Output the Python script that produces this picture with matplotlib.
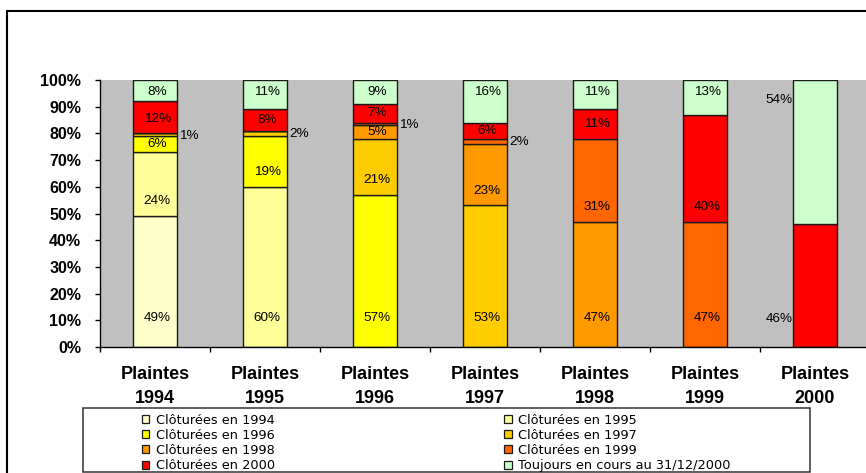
import matplotlib
matplotlib.use("Agg")
import matplotlib.pyplot as plt
from matplotlib.patches import Patch, Rectangle
from matplotlib.ticker import FixedLocator, FuncFormatter

# Complaints filed per year, broken down by the year they were closed (%)
categories = ["Plaintes\n1994", "Plaintes\n1995", "Plaintes\n1996", "Plaintes\n1997",
              "Plaintes\n1998", "Plaintes\n1999", "Plaintes\n2000"]

series_names = ["Clôturées en 1994", "Clôturées en 1995", "Clôturées en 1996",
                "Clôturées en 1997", "Clôturées en 1998", "Clôturées en 1999",
                "Clôturées en 2000", "Toujours en cours au 31/12/2000"]

clot_1994 = [49, 0, 0, 0, 0, 0, 0]
clot_1995 = [24, 60, 0, 0, 0, 0, 0]
clot_1996 = [6, 19, 57, 0, 0, 0, 0]
clot_1997 = [1, 2, 21, 53, 0, 0, 0]
clot_1998 = [0, 0, 5, 23, 47, 0, 0]
clot_1999 = [0, 0, 1, 2, 31, 47, 0]
clot_2000 = [12, 8, 7, 6, 11, 40, 46]
en_cours = [8, 11, 9, 16, 11, 13, 54]

series_values = [clot_1994, clot_1995, clot_1996, clot_1997,
                 clot_1998, clot_1999, clot_2000, en_cours]

colors = ["#FFFFCC", "#FFFF99", "#FFFF00", "#FFCC00",
          "#FF9900", "#FF6600", "#FF0000", "#CCFFCC"]

W, H = 866, 473
fig = plt.figure(figsize=(W / 100, H / 100), dpi=100)
fig.patch.set_facecolor("white")

# outer frame of the chart object
fig.add_artist(Rectangle((7.5 / W, -0.1), 2.0, (H - 11.5) / H + 0.1,
                         transform=fig.transFigure, fill=False,
                         edgecolor="black", linewidth=1.5, clip_on=False))

ax = fig.add_axes([100 / W, (H - 347) / H, 770 / W, 267 / H])
ax.set_facecolor("#C0C0C0")
ax.set_xlim(-0.5, 6.5)
ax.set_ylim(0, 100)

label_font = dict(family="Liberation Sans", fontsize=9.7, color="black")
bar_w = 0.4
n = len(categories)
xs = list(range(n))
bottoms = [0] * n

for name, vals, col in zip(series_names, series_values, colors):
    ax.bar(xs, vals, bar_w, bottom=bottoms, color=col,
           edgecolor="#1a1a1a", linewidth=1.0, zorder=3)
    bottoms = [b + v for b, v in zip(bottoms, vals)]

# value labels
for i in xs:
    segs = [(s, vals[i]) for s, vals in enumerate(series_values) if vals[i] > 0]
    base = 0
    last = len(segs) - 1
    outside_left = (i == n - 1)
    for k, (s, v) in enumerate(segs):
        center = base + v / 2
        txt = f"{v}%"
        if outside_left:
            y = 100 - 7.5 if k == last else 10.5
            ax.text(i - bar_w / 2 - 0.005, y, txt, ha="right", va="center",
                    zorder=5, **label_font)
        elif v < 3:
            ax.text(i + bar_w / 2 + 0.02, center - 0.3, txt, ha="left",
                    va="center", zorder=5, **label_font)
        else:
            if k == 0:
                y = 11
            elif k == last:
                y = 100 - 4.5
            else:
                y = min(center, base + 5.5)
            ax.text(i + 0.02, y, txt, ha="center", va="center", zorder=5,
                    **label_font)
        base += v

# axes styling
for side in ("top", "right"):
    ax.spines[side].set_visible(False)
for side in ("left", "bottom"):
    ax.spines[side].set_color("black")
    ax.spines[side].set_linewidth(1.0)
    ax.spines[side].set_zorder(4)

ax.set_yticks(range(0, 101, 10))
ax.yaxis.set_major_formatter(FuncFormatter(lambda v, p: f"{int(v)}%"))
ax.tick_params(axis="y", direction="out", length=3.6, width=1.0, pad=10,
               labelsize=11.5)
for t in ax.get_yticklabels():
    t.set_fontfamily("Liberation Sans")
    t.set_fontweight("bold")

ax.set_xticks(xs)
ax.set_xticklabels(categories)
ax.xaxis.set_minor_locator(FixedLocator([x - 0.5 for x in range(n + 1)]))
ax.tick_params(axis="x", which="major", length=0, pad=13.5, labelsize=13)
ax.tick_params(axis="x", which="minor", direction="out", length=3.8, width=1.0)
for t in ax.get_xticklabels():
    t.set_fontfamily("Liberation Sans")
    t.set_fontweight("bold")
    t.set_linespacing(1.55)

# legend box
fig.add_artist(Rectangle((83 / W, (H - 472) / H), (810 - 83) / W, (472 - 408) / H,
                         transform=fig.transFigure, fill=False,
                         edgecolor="#333333", linewidth=1.1, clip_on=False))

handles = [Patch(facecolor=c, edgecolor="#1a1a1a", linewidth=0.9, label=nm)
           for nm, c in zip(series_names, colors)]
order = [0, 2, 4, 6, 1, 3, 5, 7]
leg = fig.legend([handles[j] for j in order], [series_names[j] for j in order],
                 ncol=2, loc="upper left",
                 bbox_to_anchor=(142 / W, (H - 413.5) / H),
                 frameon=False, borderpad=0, borderaxespad=0,
                 handlelength=0.58, handleheight=0.58, handletextpad=0.5,
                 labelspacing=0.17, columnspacing=17.75,
                 prop=dict(family="DejaVu Sans", size=9.3))

fig.savefig("out.png", dpi=100, facecolor="white")
